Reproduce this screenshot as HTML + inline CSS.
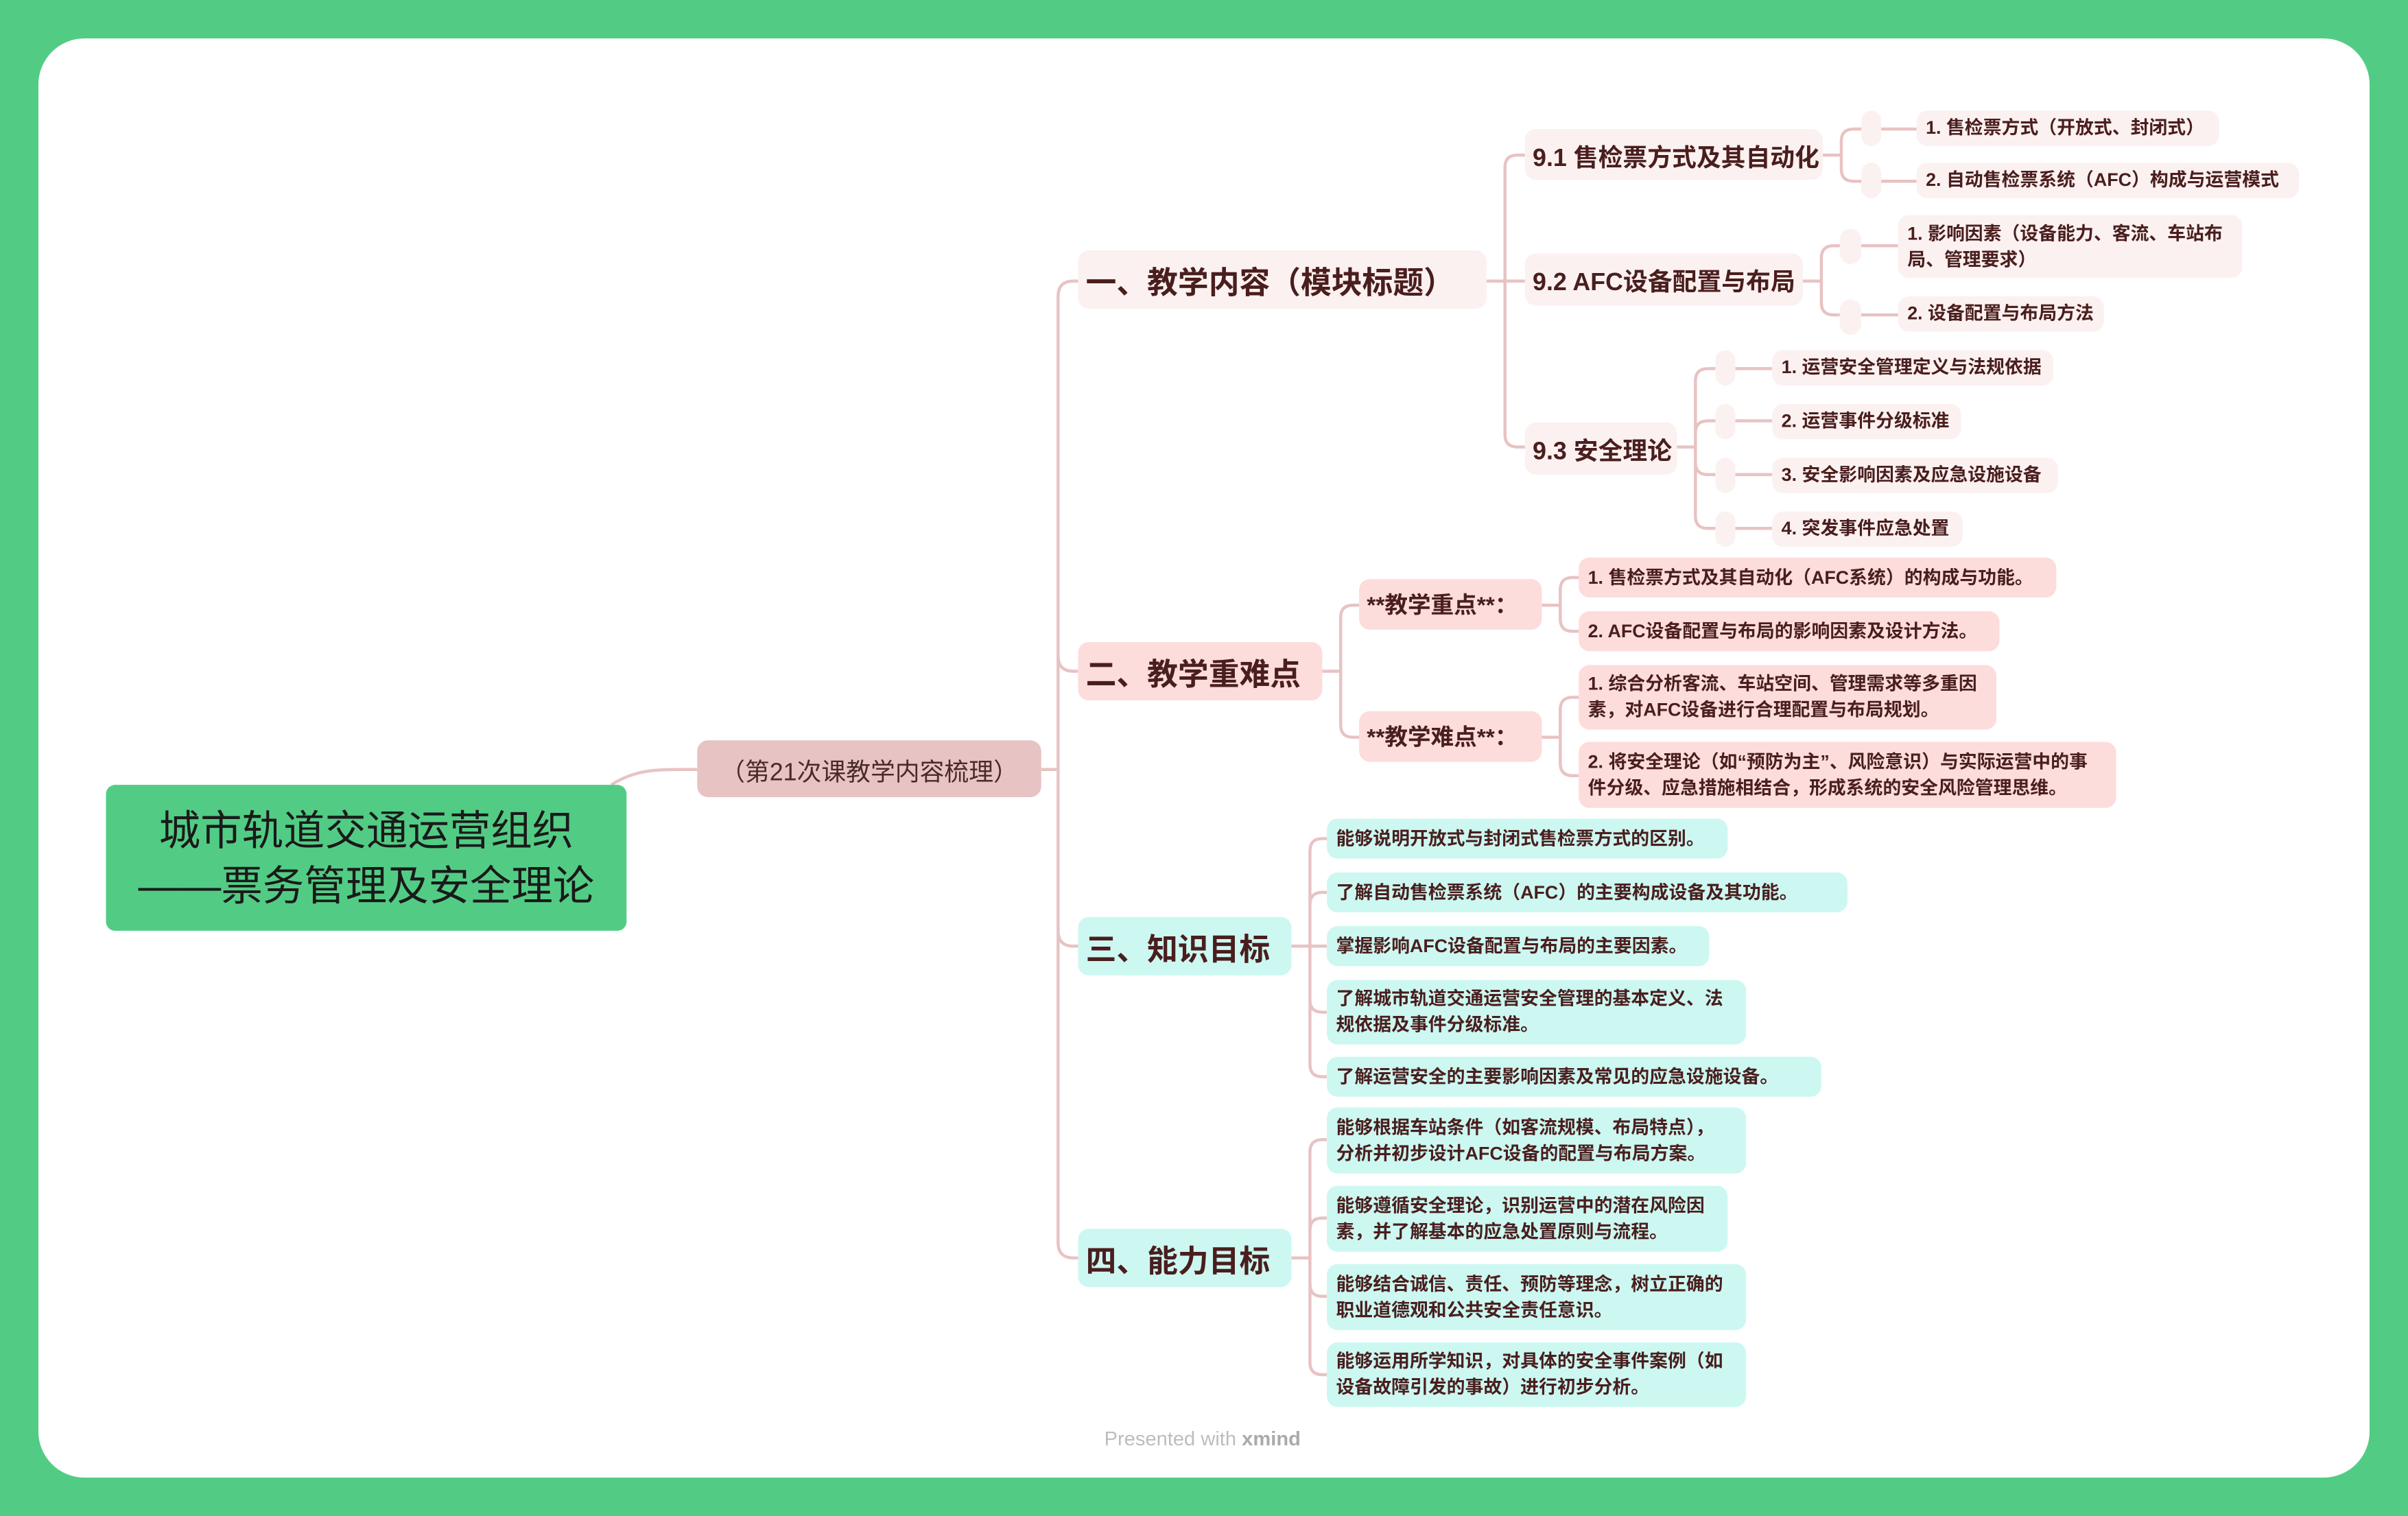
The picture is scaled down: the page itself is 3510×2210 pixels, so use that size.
<!DOCTYPE html>
<html><head><meta charset="utf-8"><style>
html,body{margin:0;padding:0;}
body{width:3510px;height:2210px;overflow:hidden;background:#52cc84;}
#w{position:absolute;left:0;top:0;width:1568px;height:987px;transform:scale(2.2385,2.2391);transform-origin:0 0;font-family:"Liberation Sans","Noto Sans CJK SC",sans-serif;}
#card{position:absolute;left:25px;top:25px;width:1518px;height:937px;background:#fff;border-radius:30px;}
.n{position:absolute;box-sizing:border-box;display:flex;align-items:center;border-radius:7px;color:#4a1e1e;font-weight:bold;white-space:nowrap;}
.l{font-size:12px;line-height:17px;padding-left:6px;}
.p{background:#fbf1f0;}
.r{background:#fddcdc;}
.c{background:#ccf8f1;}
.s{background:#fbf1f0;border-radius:7px;position:absolute;}
</style></head><body><div id="w">
<div id="card"></div>
<svg style="position:absolute;left:0;top:0" width="1568" height="987" fill="none" stroke="#e8c3c3" stroke-width="2">
<path d="M398,511 C415,500 430,501 454,501"/>
<path d="M678,501 H689 M689,501 V193 Q689,183 699,183 H702 M689,501 V427 Q689,437 699,437 H702 M689,501 V606 Q689,616 699,616 H702 M689,501 V809 Q689,819 699,819 H702"/>
<path d="M968,183 H993 M980,183 V109 Q980,101 988,101 H993 M980,183 V283 Q980,291 988,291 H993"/>
<path d="M1187,101 H1199 M1199,101 V92 Q1199,84 1207,84 H1248 M1199,101 V110 Q1199,118 1207,118 H1248"/>
<path d="M1174,183 H1186 M1186,183 V168 Q1186,160 1194,160 H1236 M1186,183 V197 Q1186,205 1194,205 H1236"/>
<path d="M1092,291 H1104 M1104,291 V248 Q1104,240 1112,240 H1154 M1104,291 V282 Q1104,274 1112,274 H1154 M1104,291 V301 Q1104,309 1112,309 H1154 M1104,291 V336 Q1104,344 1112,344 H1154"/>
<path d="M861,437 H873 M873,437 V402 Q873,394 881,394 H885 M873,437 V472 Q873,480 881,480 H885"/>
<path d="M1004,394 H1016 M1016,394 V384 Q1016,376 1024,376 H1028 M1016,394 V403 Q1016,411 1024,411 H1028"/>
<path d="M1004,480 H1016 M1016,480 V462 Q1016,454 1024,454 H1028 M1016,480 V497 Q1016,505 1024,505 H1028"/>
<path d="M841,616 H853 M853,616 V554 Q853,546 861,546 H864 M853,616 V589 Q853,581 861,581 H864 M853,616 H864 M853,616 V651 Q853,659 861,659 H864 M853,616 V693 Q853,701 861,701 H864"/>
<path d="M841,819 H853 M853,819 V750 Q853,742 861,742 H864 M853,819 V801 Q853,793 861,793 H864 M853,819 V836 Q853,844 861,844 H864 M853,819 V887 Q853,895 861,895 H864"/>
</svg>

<div class="n" style="left:69px;top:511px;width:339px;height:95px;background:#52cc84;border-radius:6px;justify-content:center;text-align:center;font-weight:normal;color:#1a1a1a;font-size:27px;line-height:36px;">城市轨道交通运营组织<br>——票务管理及安全理论</div>
<div class="n" style="left:454px;top:482px;width:224px;height:37px;background:#e8c3c3;justify-content:center;font-weight:normal;font-size:16px;color:#4a2a2a;">（第21次课教学内容梳理）</div>

<div class="n p" style="left:702px;top:163px;width:266px;height:38px;font-size:20px;padding-left:5px;">一、教学内容（模块标题）</div>
<div class="n r" style="left:702px;top:418px;width:159px;height:38px;font-size:20px;padding-left:5px;">二、教学重难点</div>
<div class="n c" style="left:702px;top:597px;width:139px;height:38px;font-size:20px;padding-left:5px;">三、知识目标</div>
<div class="n c" style="left:702px;top:800px;width:139px;height:38px;font-size:20px;padding-left:5px;">四、能力目标</div>

<div class="n p" style="left:993px;top:84px;width:194px;height:33px;font-size:16px;padding-left:5px;">9.1 售检票方式及其自动化</div>
<div class="n p" style="left:993px;top:165px;width:181px;height:34px;font-size:16px;padding-left:5px;">9.2 AFC设备配置与布局</div>
<div class="n p" style="left:993px;top:275px;width:99px;height:34px;font-size:16px;padding-left:5px;">9.3 安全理论</div>

<div class="s" style="left:1212px;top:72px;width:13px;height:23px"></div>
<div class="s" style="left:1212px;top:106px;width:13px;height:23px"></div>
<div class="n p l" style="left:1248px;top:72px;width:197px;height:23px;">1. 售检票方式（开放式、封闭式）</div>
<div class="n p l" style="left:1248px;top:106px;width:249px;height:23px;">2. 自动售检票系统（AFC）构成与运营模式</div>

<div class="s" style="left:1198px;top:149px;width:14px;height:23px"></div>
<div class="s" style="left:1198px;top:195px;width:14px;height:23px"></div>
<div class="n p l" style="left:1236px;top:140px;width:224px;height:41px;">1. 影响因素（设备能力、客流、车站布<br>局、管理要求）</div>
<div class="n p l" style="left:1236px;top:193px;width:134px;height:23px;">2. 设备配置与布局方法</div>

<div class="s" style="left:1117px;top:228px;width:13px;height:23px"></div>
<div class="s" style="left:1117px;top:263px;width:13px;height:23px"></div>
<div class="s" style="left:1117px;top:298px;width:13px;height:23px"></div>
<div class="s" style="left:1117px;top:333px;width:13px;height:23px"></div>
<div class="n p l" style="left:1154px;top:228px;width:183px;height:23px;">1. 运营安全管理定义与法规依据</div>
<div class="n p l" style="left:1154px;top:263px;width:123px;height:23px;">2. 运营事件分级标准</div>
<div class="n p l" style="left:1154px;top:298px;width:186px;height:23px;">3. 安全影响因素及应急设施设备</div>
<div class="n p l" style="left:1154px;top:333px;width:124px;height:23px;">4. 突发事件应急处置</div>

<div class="n r" style="left:885px;top:377px;width:119px;height:33px;font-size:15px;padding-left:5px;">**教学重点**：</div>
<div class="n r" style="left:885px;top:463px;width:119px;height:33px;font-size:15px;padding-left:5px;">**教学难点**：</div>
<div class="n r l" style="left:1028px;top:363px;width:311px;height:26px;">1. 售检票方式及其自动化（AFC系统）的构成与功能。</div>
<div class="n r l" style="left:1028px;top:398px;width:274px;height:26px;">2. AFC设备配置与布局的影响因素及设计方法。</div>
<div class="n r l" style="left:1028px;top:433px;width:272px;height:42px;">1. 综合分析客流、车站空间、管理需求等多重因<br>素，对AFC设备进行合理配置与布局规划。</div>
<div class="n r l" style="left:1028px;top:483px;width:350px;height:43px;">2. 将安全理论（如“预防为主”、风险意识）与实际运营中的事<br>件分级、应急措施相结合，形成系统的安全风险管理思维。</div>

<div class="n c l" style="left:864px;top:533px;width:261px;height:26px;">能够说明开放式与封闭式售检票方式的区别。</div>
<div class="n c l" style="left:864px;top:568px;width:339px;height:26px;">了解自动售检票系统（AFC）的主要构成设备及其功能。</div>
<div class="n c l" style="left:864px;top:603px;width:249px;height:26px;">掌握影响AFC设备配置与布局的主要因素。</div>
<div class="n c l" style="left:864px;top:638px;width:273px;height:42px;">了解城市轨道交通运营安全管理的基本定义、法<br>规依据及事件分级标准。</div>
<div class="n c l" style="left:864px;top:688px;width:322px;height:26px;">了解运营安全的主要影响因素及常见的应急设施设备。</div>

<div class="n c l" style="left:864px;top:721px;width:273px;height:43px;">能够根据车站条件（如客流规模、布局特点），<br>分析并初步设计AFC设备的配置与布局方案。</div>
<div class="n c l" style="left:864px;top:772px;width:261px;height:43px;">能够遵循安全理论，识别运营中的潜在风险因<br>素，并了解基本的应急处置原则与流程。</div>
<div class="n c l" style="left:864px;top:823px;width:273px;height:43px;">能够结合诚信、责任、预防等理念，树立正确的<br>职业道德观和公共安全责任意识。</div>
<div class="n c l" style="left:864px;top:874px;width:273px;height:42px;">能够运用所学知识，对具体的安全事件案例（如<br>设备故障引发的事故）进行初步分析。</div>

<div style="position:absolute;left:683px;top:929px;width:200px;text-align:center;font-size:13px;color:#bdbdbd;">Presented with <b style="color:#aaa">xmind</b></div>
</div></body></html>
